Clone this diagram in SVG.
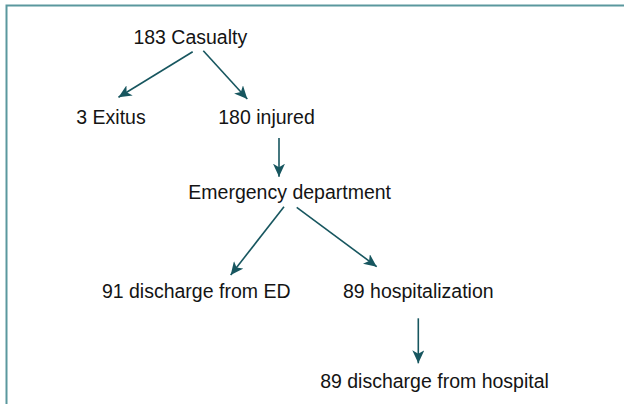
<svg xmlns="http://www.w3.org/2000/svg" width="624" height="404" viewBox="0 0 624 404">
<style>
.t{font-family:"Liberation Sans",Arial,sans-serif;font-size:19.5px;fill:#141414;text-anchor:middle}
.c{stroke:#17565f;stroke-width:1.6;fill:none;marker-end:url(#ah)}
</style>
<defs>
<marker id="ah" markerUnits="userSpaceOnUse" markerWidth="14" markerHeight="12" viewBox="0 0 14 12" refX="13" refY="6" orient="auto">
<path d="M0,0 L13,6 L0,12 L3.5,6 Z" fill="#17565f"/>
</marker>
</defs>
<rect width="624" height="404" fill="#ffffff"/>
<path d="M6.5,404 V5.5 H624" fill="none" stroke="#5a989e" stroke-width="2"/>
<g id="connectors">
<line class="c" x1="192.7" y1="51.7" x2="118.5" y2="97.3"/>
<line class="c" x1="203.3" y1="50.7" x2="247.3" y2="99"/>
<line class="c" x1="279" y1="138" x2="279" y2="176.7"/>
<line class="c" x1="284" y1="206.7" x2="230.7" y2="275"/>
<line class="c" x1="296.7" y1="207.3" x2="376.7" y2="266.7"/>
<line class="c" x1="418.3" y1="318.3" x2="418.3" y2="363.3"/>
</g>
<g id="casualty"><text class="t" x="190.3" y="44">183 Casualty</text></g>
<g id="exitus"><text class="t" x="111" y="124">3 Exitus</text></g>
<g id="injured"><text class="t" x="266.5" y="124">180 injured</text></g>
<g id="ed"><text class="t" x="289.7" y="199">Emergency department</text></g>
<g id="discharge-ed"><text class="t" x="196.2" y="298">91 discharge from ED</text></g>
<g id="hospitalization"><text class="t" x="418.3" y="298">89 hospitalization</text></g>
<g id="discharge-hospital"><text class="t" x="434.5" y="388">89 discharge from hospital</text></g>
</svg>
